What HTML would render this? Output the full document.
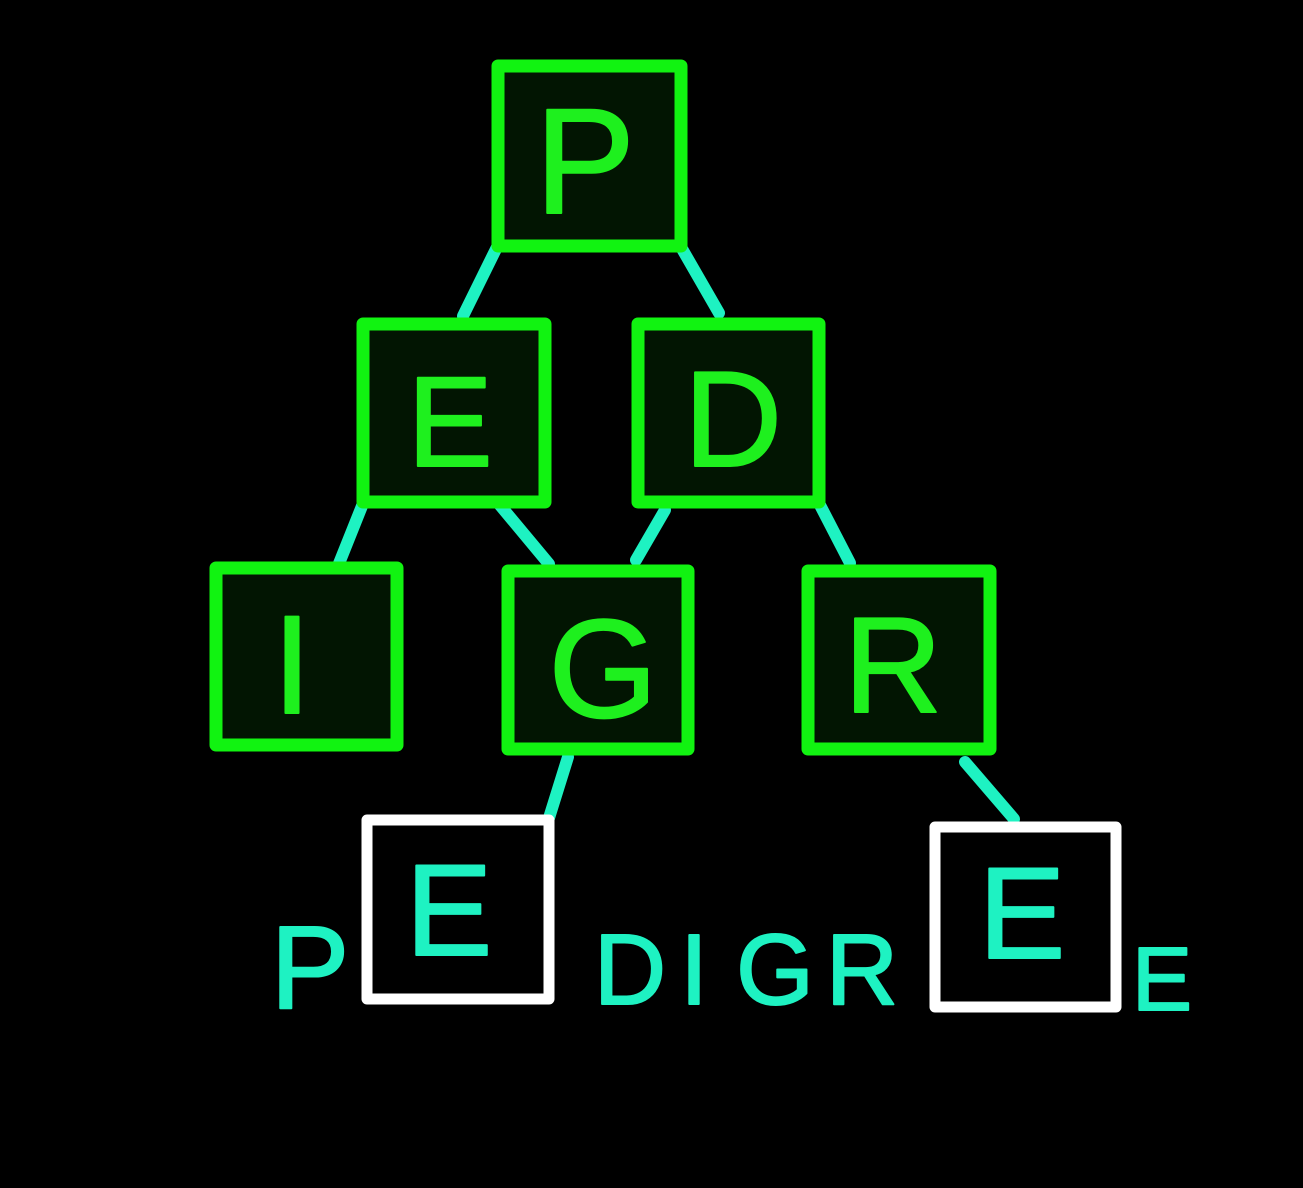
<!DOCTYPE html>
<html><head><meta charset="utf-8"><style>
html,body{margin:0;padding:0;background:#000;}
svg{display:block;}
text{font-family:"Liberation Sans","DejaVu Sans",sans-serif;stroke-linejoin:round;}
.g{fill:#1ef01e;stroke:#1ef01e;stroke-width:2;}
.c{fill:#1ef2c2;stroke:#1ef2c2;stroke-width:2;}
</style></head><body>
<svg width="1303" height="1188" viewBox="0 0 1303 1188">
<rect x="0" y="0" width="1303" height="1188" fill="#000"/>
<g stroke="#1ef2c2" stroke-width="12" stroke-linecap="round">
<line x1="497" y1="247" x2="463" y2="316"/>
<line x1="681" y1="247" x2="719" y2="313"/>
<line x1="362" y1="506" x2="338" y2="566"/>
<line x1="499" y1="504" x2="549" y2="564"/>
<line x1="665" y1="510" x2="636" y2="560"/>
<line x1="820" y1="505" x2="850" y2="563"/>
<line x1="568" y1="757" x2="549" y2="818"/>
<line x1="965" y1="762" x2="1014" y2="819"/>
</g>
<g fill="#021502" stroke="#11f311" stroke-width="13" stroke-linejoin="round">
<rect x="498" y="66" width="183" height="180"/>
<rect x="363" y="324" width="182" height="178"/>
<rect x="638" y="324" width="181" height="178"/>
<rect x="216" y="568" width="181" height="177"/>
<rect x="508" y="571" width="180" height="178"/>
<rect x="808" y="571" width="182" height="178"/>
</g>
<g fill="#000" stroke="#fff" stroke-width="11" stroke-linejoin="round">
<rect x="367" y="820" width="182" height="179"/>
<rect x="935" y="827" width="181" height="180"/>
</g>
<g text-anchor="middle">
<text class="g" x="585" y="213" font-size="150">P</text>
<text class="g" x="450" y="466" font-size="128">E</text>
<text class="g" x="733" y="466" font-size="136">D</text>
<text class="g" x="292" y="713" font-size="140">I</text>
<text class="g" x="603" y="717" font-size="140">G</text>
<text class="g" x="893" y="712" font-size="136">R</text>
</g>
<g text-anchor="middle">
<text class="c" x="310" y="1008" font-size="118">P</text>
<text class="c" x="449" y="955" font-size="130">E</text>
<text class="c" x="630" y="1004" font-size="100">D</text>
<text class="c" x="694" y="1004" font-size="100">I</text>
<text class="c" x="775" y="1004" font-size="100">G</text>
<text class="c" x="862" y="1004" font-size="100">R</text>
<text class="c" x="1022" y="958" font-size="130">E</text>
<text class="c" x="1162" y="1010" font-size="90">E</text>
</g>
</svg>
</body></html>
